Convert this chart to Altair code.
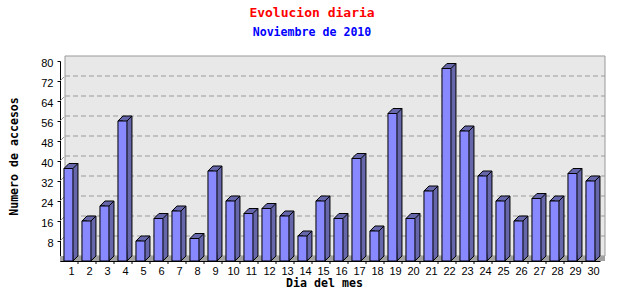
import altair as alt
import pandas as pd

# ---- data ----
days = list(range(1, 31))
values = [37, 16, 22, 56, 8, 17, 20, 9, 36, 24, 19, 21, 18, 10, 24,
          17, 41, 12, 59, 17, 28, 77, 52, 34, 24, 16, 25, 24, 35, 32]
y_ticks = [8, 16, 24, 32, 40, 48, 56, 64, 72, 80]
grid_values = [8, 16, 24, 32, 40, 48, 56, 64, 72]

# ---- style constants ----
FRONT = "#8888ff"
SIDE = "#6666aa"
WALL = "#e8e8e8"
FLOOR = "#a0a0a0"
GRID = "#9a9a9a"
MONO = "DejaVu Sans Mono"
SANS = "Liberation Sans"
DX = 5 / 18.0     # 3D depth in x data units (5 px)
DY = 2.0          # 3D depth in y data units (5 px)
LEFT = 0.28       # front face left edge relative to day
RIGHT = 0.22      # front face right edge relative to day

xs = alt.Scale(domain=[0.5, 30.5], nice=False, zero=False)
ys = alt.Scale(domain=[0, 80], nice=False, zero=False)

xaxis = alt.Axis(
    values=days, ticks=False, grid=False, labelPadding=4, labelOffset=2,
    labelFont=SANS, labelFontSize=11, labelColor="black",
    domainColor="black", title="Dia del mes", titleFont=MONO,
    titleFontSize=11.6, titleFontWeight="bold", titleColor="black",
    titleX=264, titleY=25, titleAlign="center", titleBaseline="alphabetic",
    labelFlush=False, labelOverlap=False)
yaxis = alt.Axis(
    values=y_ticks, grid=False, tickSize=3, tickColor="black",
    domainColor="black", labelFont=SANS, labelFontSize=11,
    labelColor="black", labelPadding=4, labelOffset=2, labelFlush=False,
    labelOverlap=False,
    title="Numero de accesos", titleFont=MONO, titleFontSize=11.6,
    titleFontWeight="bold", titleColor="black", titleAngle=270,
    titleX=-46, titleY=95, titleAlign="center", titleBaseline="middle")

bars = pd.DataFrame({"day": days, "value": values})

# polygon rows for the top + side faces of each bar
rows = []
for d, v in zip(days, values):
    x0, x1 = d - LEFT, d + RIGHT
    rows.append({"day": d, "x": x0, "y": v, "y2": v})
    rows.append({"day": d, "x": x0 + DX, "y": v + DY, "y2": v})
    rows.append({"day": d, "x": x1, "y": v + DY, "y2": 0})
    rows.append({"day": d, "x": x1 + DX, "y": v + DY, "y2": DY})
faces = pd.DataFrame(rows)

grid_df = pd.DataFrame({"v": grid_values})
tick_df = pd.DataFrame({"day": days[:-1]})
one = pd.DataFrame({"a": [0]})

# back wall
wall = alt.Chart(one).mark_rect(
    fill=WALL, stroke="#999999", strokeWidth=1,
    xOffset=5, x2Offset=5, yOffset=-5, y2Offset=-5
).encode(
    x=alt.XDatum(0.5, type="quantitative", scale=xs, axis=xaxis),
    x2=alt.X2Datum(30.5),
    y=alt.YDatum(0, type="quantitative", scale=ys, axis=yaxis),
    y2=alt.Y2Datum(80),
)

# dashed grid lines on the back wall
grid = alt.Chart(grid_df).mark_rule(
    color=GRID, strokeDash=[5, 3], strokeWidth=1,
    xOffset=5, x2Offset=5, yOffset=-5
).encode(
    x=alt.XDatum(0.5, type="quantitative", scale=xs, axis=xaxis),
    x2=alt.X2Datum(30.5),
    y=alt.Y("v:Q", scale=ys, axis=yaxis),
)

# small slanted connectors from the axis to the wall
grid_slant = alt.Chart(grid_df).mark_rule(
    color=GRID, strokeWidth=1, x2Offset=4, y2Offset=-4
).encode(
    x=alt.XDatum(0.5, type="quantitative", scale=xs, axis=xaxis),
    x2=alt.X2Datum(0.5),
    y=alt.Y("v:Q", scale=ys, axis=yaxis),
    y2="v:Q",
)

# floor strip
floor = alt.Chart(one).mark_rect(
    fill=FLOOR, x2Offset=5
).encode(
    x=alt.XDatum(0.5, type="quantitative", scale=xs, axis=xaxis),
    x2=alt.X2Datum(30.5),
    y=alt.YDatum(0, type="quantitative", scale=ys, axis=yaxis),
    y2=alt.Y2Datum(DY),
)

# top + side faces
side = alt.Chart(faces).mark_area(
    fill=SIDE, stroke="black", strokeWidth=1, interpolate="linear"
).encode(
    x=alt.X("x:Q", scale=xs, axis=xaxis),
    y=alt.Y("y:Q", scale=ys, axis=yaxis, stack=None),
    y2="y2:Q",
    detail="day:N",
)

# edge between top and side faces
edge = alt.Chart(bars).transform_calculate(
    ex=f"datum.day + {RIGHT}", ex2=f"datum.day + {RIGHT} + {DX}",
    ey2=f"datum.value + {DY}"
).mark_rule(color="black", strokeWidth=1).encode(
    x=alt.X("ex:Q", scale=xs, axis=xaxis),
    x2="ex2:Q",
    y=alt.Y("value:Q", scale=ys, axis=yaxis),
    y2="ey2:Q",
)

# front faces
front = alt.Chart(bars).transform_calculate(
    fx=f"datum.day - {LEFT}", fx2=f"datum.day + {RIGHT}"
).mark_rect(fill=FRONT, stroke="black", strokeWidth=1).encode(
    x=alt.X("fx:Q", scale=xs, axis=xaxis),
    x2="fx2:Q",
    y=alt.Y("value:Q", scale=ys, axis=yaxis),
    y2=alt.Y2Datum(0),
)

# x ticks at band boundaries
xticks = alt.Chart(tick_df).transform_calculate(
    tx="datum.day + 0.5"
).mark_rule(color="black", strokeWidth=1, y2Offset=3).encode(
    x=alt.X("tx:Q", scale=xs, axis=xaxis),
    y=alt.YDatum(0, type="quantitative", scale=ys, axis=yaxis),
    y2=alt.Y2Datum(0),
)

chart = alt.layer(
    wall, grid, grid_slant, floor, side, edge, front, xticks
).properties(
    width=540, height=200,
    autosize="none",
    padding={"left": 60, "top": 61, "right": 40, "bottom": 39},
    title=alt.TitleParams(
        text="Evolucion diaria", subtitle="Noviembre de 2010",
        color="red", subtitleColor="blue",
        font=MONO, fontSize=13, fontWeight="bold",
        subtitleFont=MONO, subtitleFontSize=11.6, subtitleFontWeight="bold",
        anchor="middle", dx=-18, offset=17, subtitlePadding=7),
).configure_view(stroke=None)

chart.save("out.html", embed_options={"renderer": "svg", "actions": False})
